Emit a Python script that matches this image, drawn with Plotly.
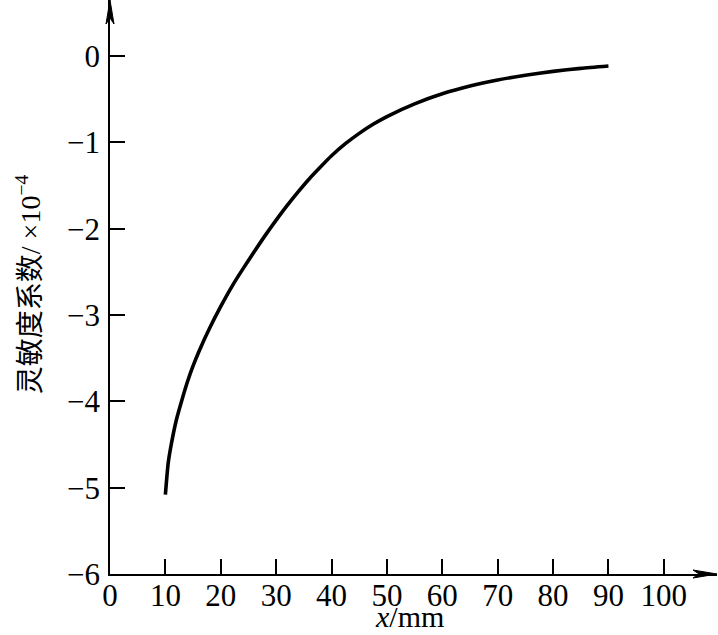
import plotly.graph_objects as go

x_mm = [10, 10.5, 11, 12, 13, 14, 15, 16, 18, 20, 22, 24, 26, 28, 30, 32, 34, 36, 38, 40,
        42.5, 45, 47.5, 50, 55, 60, 65, 70, 75, 80, 85, 90]
sens = [-5.08, -4.72, -4.52, -4.21, -3.98, -3.77, -3.59, -3.43, -3.15, -2.90, -2.67, -2.465,
        -2.27, -2.08, -1.90, -1.73, -1.57, -1.42, -1.285, -1.155,
        -1.015, -0.895, -0.79, -0.70, -0.553, -0.437, -0.347, -0.277, -0.222, -0.177,
        -0.142, -0.115]

x_ticks = [0, 10, 20, 30, 40, 50, 60, 70, 80, 90, 100]
y_ticks = [0, -1, -2, -3, -4, -5, -6]
y_ticklabels = ["0", "−1", "−2", "−3", "−4", "−5", "−6"]

X_MAX = 109.6
Y_MAX = 0.65

SERIF = "Liberation Serif, Times New Roman, serif"

fig = go.Figure()
fig.add_trace(go.Scatter(x=x_mm, y=sens, mode="lines",
                         line=dict(color="black", width=3.6, shape="spline", smoothing=0.6),
                         showlegend=False, hoverinfo="skip"))

tickfont = dict(family=SERIF, size=31, color="black")

fig.update_layout(
    width=718, height=635,
    margin=dict(l=110, r=1, t=0, b=61, autoexpand=False),
    paper_bgcolor="white", plot_bgcolor="white",
    xaxis=dict(range=[0, X_MAX], tickvals=x_ticks, ticktext=[str(v) for v in x_ticks],
               ticks="inside", ticklen=15, tickwidth=1.5, tickcolor="black",
               showline=True, linecolor="black", linewidth=1.6, mirror=False,
               showgrid=False, zeroline=False, tickfont=tickfont,
               ticklabelstandoff=-7, automargin=False),
    yaxis=dict(range=[-6, Y_MAX], tickvals=y_ticks, ticktext=y_ticklabels,
               ticks="inside", ticklen=15, tickwidth=1.5, tickcolor="black",
               showline=True, linecolor="black", linewidth=1.6, mirror=False,
               showgrid=False, zeroline=False, tickfont=tickfont,
               ticklabelstandoff=2, automargin=False),
)

# arrowheads at the ends of the axes (pixel-sized shapes)
fig.add_shape(type="path", xref="paper", yref="paper", xsizemode="pixel", ysizemode="pixel",
              xanchor=1, yanchor=0, path="M 0 0 L -24 4 L -18 0 L -24 -4 Z",
              fillcolor="black", line=dict(color="black", width=1))
fig.add_shape(type="path", xref="paper", yref="paper", xsizemode="pixel", ysizemode="pixel",
              xanchor=0, yanchor=1, path="M 0 0 L -4 -24 L 0 -18 L 4 -24 Z",
              fillcolor="black", line=dict(color="black", width=1))

# axis titles
fig.add_annotation(x=0.494, y=-0.1063, xref="paper", yref="paper", showarrow=False,
                   text="<i>x</i>/mm", xanchor="center", yanchor="bottom",
                   font=dict(family=SERIF, size=30, color="black"))
fig.add_annotation(x=-0.135, y=0.505, xref="paper", yref="paper", showarrow=False,
                   text="<span style='font-family:Noto Sans CJK SC'>灵敏度系数</span>/ ×10<sup>−4</sup>",
                   textangle=-90, xanchor="center", yanchor="middle",
                   font=dict(family=SERIF + ", Noto Sans CJK SC", size=28, color="black"))

fig.write_html("out.html", config={"displayModeBar": False},
               post_script="document.body.style.margin='0';")
